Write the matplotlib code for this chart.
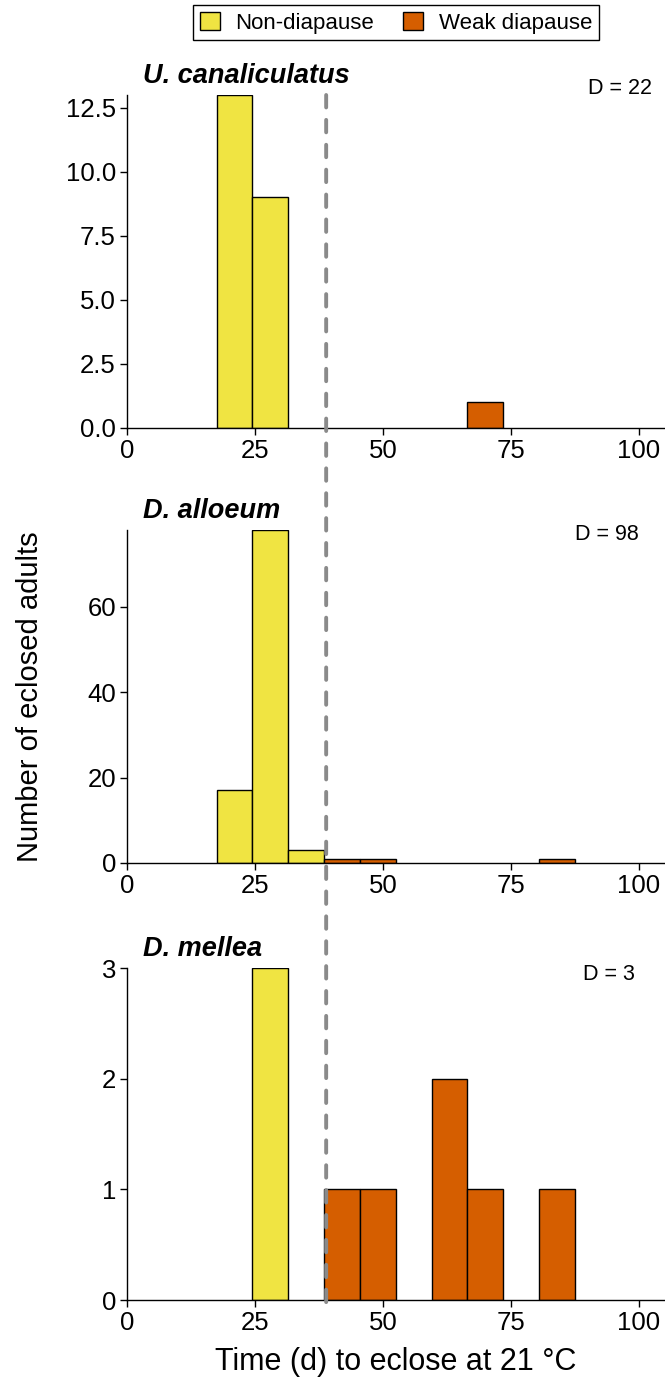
import matplotlib
matplotlib.use("Agg")
import matplotlib.pyplot as plt
from matplotlib.patches import Patch, ConnectionPatch

plt.rcParams['font.family'] = ['Liberation Sans', 'DejaVu Sans']

# ---- data ----
bin_starts = [17.5, 24.5, 31.5, 38.5, 45.5, 52.5, 59.5, 66.5, 73.5, 80.5]
bin_width = 7
species = ["U. canaliculatus", "D. alloeum", "D. mellea"]
counts_u_canaliculatus = [13, 9, 0, 0, 0, 0, 0, 1, 0, 0]
counts_d_alloeum = [17, 78, 3, 1, 1, 0, 0, 0, 0, 1]
counts_d_mellea = [0, 3, 0, 1, 1, 0, 2, 1, 0, 1]
sample_sizes = [22, 98, 3]
cutoff = 38.9
categories = ["Non-diapause", "Weak diapause"]
x_ticks = [0, 25, 50, 75, 100]
y_ticks_u = [0, 2.5, 5, 7.5, 10, 12.5]
y_ticks_da = [0, 20, 40, 60]
y_ticks_dm = [0, 1, 2, 3]

all_counts = [counts_u_canaliculatus, counts_d_alloeum, counts_d_mellea]
all_yticks = [y_ticks_u, y_ticks_da, y_ticks_dm]

# ---- style ----
W, H = 665, 1378
colors = {"Non-diapause": "#F0E442", "Weak diapause": "#D55E00"}
px_per_unit = 5.12
left_px = 127
panel_px = [(95, 428), (530, 863), (968, 1300)]   # (top, bottom) in pixels
dtext_px = [(620, 89), (607, 534), (609, 975)]     # centre of "D = n" labels

fig = plt.figure(figsize=(W / 100, H / 100), dpi=100)
axes = []
for i, (top, bot) in enumerate(panel_px):
    ax = fig.add_axes([left_px / W, 1 - bot / H, 1 - left_px / W, (bot - top) / H])
    counts = all_counts[i]
    for s, c in zip(bin_starts, counts):
        if c == 0:
            continue
        cat = categories[0] if s + bin_width / 2 < cutoff else categories[1]
        ax.bar(s, c, width=bin_width, align='edge', color=colors[cat],
               edgecolor='black', linewidth=1.0, zorder=2)
    ax.set_xlim(0, (W - left_px) / px_per_unit)
    ax.set_ylim(0, max(counts))
    ax.set_xticks(x_ticks)
    ax.set_yticks(all_yticks[i])
    if i == 0:
        ax.set_yticklabels([f"{v:.1f}" for v in all_yticks[i]])
    for sp in ['top', 'right']:
        ax.spines[sp].set_visible(False)
    for sp in ['left', 'bottom']:
        ax.spines[sp].set_linewidth(1.0)
    ax.tick_params(axis='both', direction='out', length=5, width=1.0,
                   labelsize=18.5, colors='black', pad=3)
    ax.patch.set_alpha(0)
    ax.annotate(species[i], xy=(0, 1), xycoords='axes fraction',
                xytext=(11.5, 8.5), textcoords='offset points',
                ha='left', va='baseline', fontsize=19.5,
                fontweight='bold', fontstyle='italic')
    cx, cy = dtext_px[i]
    fig.text(cx / W, 1 - cy / H, f"D = {sample_sizes[i]}", ha='center',
             va='center', fontsize=15.5)
    axes.append(ax)

# dashed cut-off line running through all panels
con = ConnectionPatch(xyA=(cutoff, axes[0].get_ylim()[1]), coordsA=axes[0].transData,
                      xyB=(cutoff, -0.05), coordsB=axes[2].transData,
                      color='#8a8a8a', linewidth=2.8, linestyle=(0, (3.2, 3.2)),
                      zorder=5)
fig.add_artist(con)

fig.text((left_px + W) / 2 / W, 1 - 1362 / H, "Time (d) to eclose at 21 °C",
         ha='center', va='center', fontsize=22)
fig.text(30 / W, 1 - 697 / H, "Number of eclosed adults", rotation=90,
         ha='center', va='center', fontsize=21)

handles = [Patch(facecolor=colors[c], edgecolor='black', linewidth=1.0, label=c)
           for c in categories]
leg = fig.legend(handles=handles, loc='upper center',
                 bbox_to_anchor=((left_px + W) / 2 / W, 1 - 5 / H), ncol=2,
                 fontsize=16, frameon=True, fancybox=False, framealpha=1,
                 edgecolor='black', handlelength=0.9, handleheight=0.9,
                 handletextpad=0.7, columnspacing=1.3, borderpad=0.3,
                 borderaxespad=0)
leg.get_frame().set_linewidth(1.0)

fig.savefig("out.png", dpi=100)
